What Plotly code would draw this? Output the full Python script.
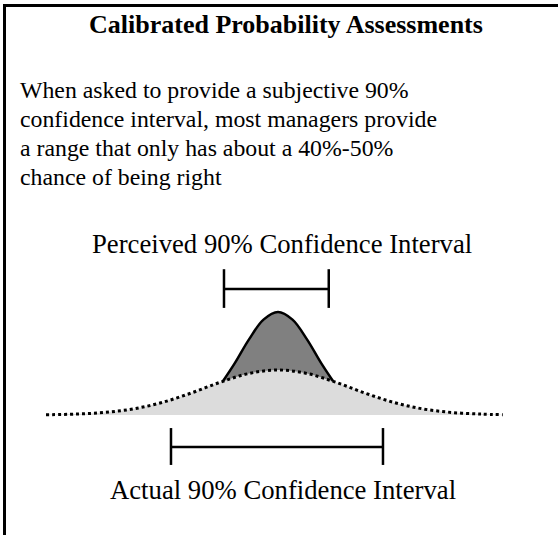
import plotly.graph_objects as go

W, H = 558, 535
ML, MT = 6, 7  # plot area starts just inside the frame lines

# ---- data ----
# wide ("actual") distribution: x in units of its sd, height relative to its own peak
wide_x = [-3.2, -2.8, -2.4, -2.0, -1.6, -1.2, -0.8, -0.4, 0.0, 0.4, 0.8, 1.2, 1.6, 2.0, 2.4, 2.8, 3.1]
wide_y = [0.006, 0.020, 0.056, 0.135, 0.278, 0.487, 0.726, 0.923, 1.0, 0.923, 0.726, 0.487, 0.278, 0.135, 0.056, 0.020, 0.008]
# narrow ("perceived") distribution, visible only above the wide one
narrow_x = [-0.76, -0.6, -0.4, -0.2, 0.0, 0.2, 0.4, 0.6, 0.76]
narrow_y = [0.75, 1.14, 1.68, 2.12, 2.29, 2.12, 1.68, 1.14, 0.75]

perceived_ci = [-0.745, 0.70]
perceived_level = 2.80
perceived_tick = [2.38, 3.24]
actual_ci = [-1.476, 1.448]
actual_level = -0.71
actual_tick = [-1.11, -0.29]

title = "Calibrated Probability Assessments"
para_lines = [
    "When asked to provide a subjective 90%",
    "confidence interval, most managers provide",
    "a range that only has about a 40%-50%",
    "chance of being right",
]
perceived_label = "Perceived 90% Confidence Interval"
actual_label = "Actual 90% Confidence Interval"

FONT = "Liberation Serif, Times New Roman, serif"

fig = go.Figure()
fig.add_trace(go.Scatter(x=narrow_x, y=narrow_y, mode="lines", line=dict(width=0, shape="spline"),
                         fill="tozeroy", fillcolor="#808080", hoverinfo="skip"))
fig.add_trace(go.Scatter(x=wide_x, y=wide_y, mode="lines", line=dict(width=0, shape="spline"),
                         fill="tozeroy", fillcolor="#dcdcdc", hoverinfo="skip"))
fig.add_trace(go.Scatter(x=narrow_x, y=narrow_y, mode="lines",
                         line=dict(color="black", width=2.5, shape="spline"), hoverinfo="skip"))
fig.add_trace(go.Scatter(x=wide_x, y=wide_y, mode="lines",
                         line=dict(color="black", width=3, dash="3px,3px", shape="spline"), hoverinfo="skip"))


def bracket(ci, level, tick):
    xs = [ci[0], ci[1], None, ci[0], ci[0], None, ci[1], ci[1]]
    ys = [level, level, None, tick[0], tick[1], None, tick[0], tick[1]]
    return go.Scatter(x=xs, y=ys, mode="lines", line=dict(color="black", width=2.5),
                      hoverinfo="skip")


fig.add_trace(bracket(perceived_ci, perceived_level, perceived_tick))
fig.add_trace(bracket(actual_ci, actual_level, actual_tick))

PW, PH = W - ML, H - MT


def px(x):
    return (x - ML) / PW


def py(y):
    return (H - y) / PH


annos = [dict(text="<b>" + title + "</b>", x=px(286), y=py(24.6), xanchor="center",
              font=dict(size=26))]
for i, line in enumerate(para_lines):
    annos.append(dict(text=line, x=px(19), y=py(90 + 29 * i), xanchor="left", font=dict(size=23.8)))
annos.append(dict(text=perceived_label, x=px(282), y=py(244), xanchor="center", font=dict(size=26.7)))
annos.append(dict(text=actual_label, x=px(283), y=py(490), xanchor="center", font=dict(size=26.7)))
for a in annos:
    a.update(xref="paper", yref="paper", yanchor="middle", showarrow=False, borderpad=0)
    a["font"].update(family=FONT, color="black")

frame_axis = dict(visible=True, showline=True, linecolor="black", linewidth=3,
                  showticklabels=False, ticks="", showgrid=False, zeroline=False, fixedrange=True)
fig.update_layout(
    width=W, height=H, autosize=False,
    margin=dict(l=ML, r=0, t=MT, b=0, pad=0),
    paper_bgcolor="white", plot_bgcolor="white",
    showlegend=False,
    xaxis=dict(range=[(ML - 278) / 72.5, (W - 278) / 72.5], side="top", **frame_axis),
    yaxis=dict(range=[(415 - H) / 45, (415 - MT) / 45], side="left", **frame_axis),
    annotations=annos,
)

fig.write_html("out.html", config={"displayModeBar": False},
               post_script="document.body.style.margin='0';document.body.style.overflow='hidden';"
                           "document.documentElement.style.overflow='hidden';")
